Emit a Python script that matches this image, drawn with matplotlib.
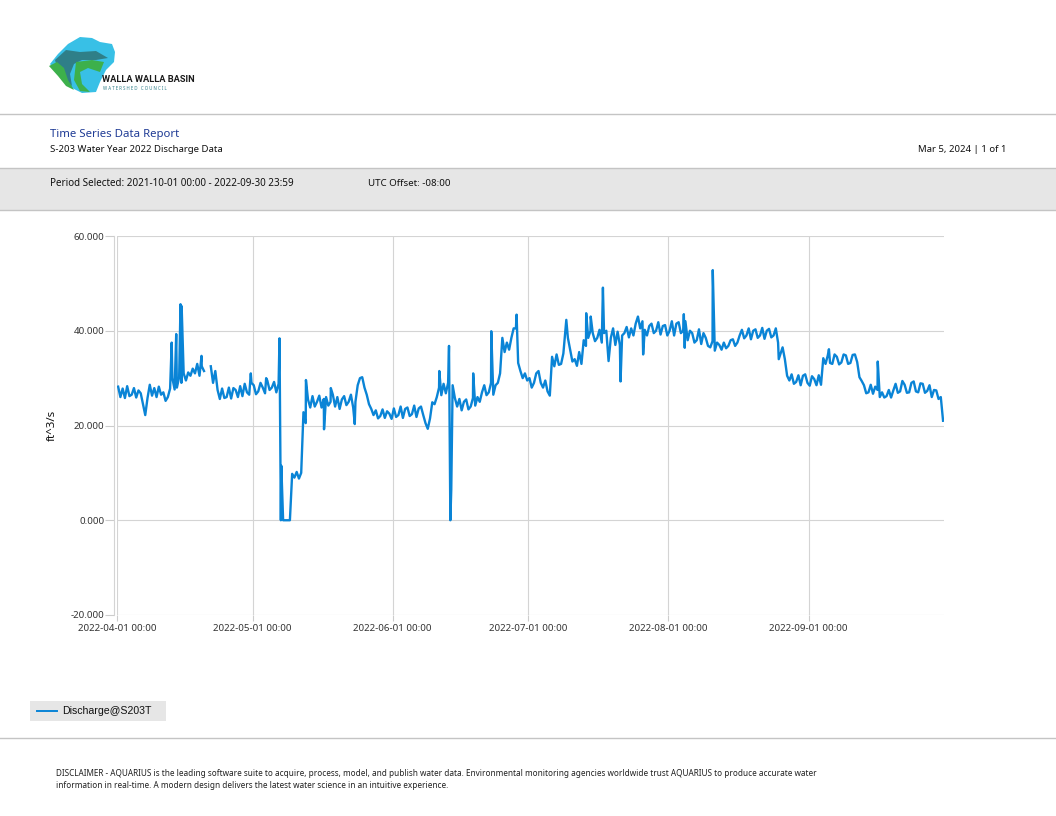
import matplotlib
matplotlib.use('Agg')
import matplotlib.pyplot as plt
import matplotlib.dates as mdates
from matplotlib.patches import Polygon, Rectangle
import numpy as np
import pandas as pd

plt.rcParams['font.family'] = ['Noto Sans', 'DejaVu Sans']

# discharge, two readings per day (06:00 and 18:00) from 2022-04-01
flow = [
    28.2, 26.0, 27.8, 25.8, 28.3, 26.2, 26.5, 27.9, 25.9, 27.4,
    26.8, 24.5, 22.2, 25.8, 28.6, 26.3, 27.9, 26.0, 28.2, 26.5,
    27.0, 25.2, 26.0, 27.8, 30.0, 27.6, 28.0, 30.2, 29.0, 31.0,
    29.5, 31.2, 30.5, 32.0, 31.0, 33.0, 30.5, 32.5, 31.5, np.nan,
    np.nan, 32.5, 29.0, 31.5, 27.5, 25.6, 27.8, 25.8, 26.0, 28.0,
    25.7, 27.9, 27.5, 26.0, 28.3, 26.2, 28.8, 27.0, 26.5, 29.0,
    28.5, 26.6, 27.2, 29.0, 28.0, 26.8, 29.5, 27.5, 28.0, 29.2,
    27.0, 28.8, 0.0, 0.0, 0.0, 0.0, 0.0, 9.8, 9.0, 10.2,
    8.8, 10.0, 22.8, 20.5, 25.5, 23.8, 26.2, 24.0, 25.0, 26.3,
    23.8, 25.6, 26.0, 24.2, 25.0, 26.5, 24.0, 26.0, 23.5, 25.5,
    26.2, 24.3, 25.0, 26.5, 23.8, 25.0, 28.5, 30.0, 30.2, 28.0,
    26.5, 24.5, 23.5, 22.2, 23.2, 21.5, 22.0, 23.4, 21.6, 23.0,
    22.5, 21.4, 23.6, 21.8, 22.2, 24.0, 21.6, 23.5, 23.8, 22.0,
    22.4, 24.2, 21.8, 23.6, 24.0, 22.2, 20.5, 19.3, 21.5, 24.9,
    24.5, 26.0, 28.0, 26.4, 28.8, 26.8, 29.0, 0.0, 28.5, 25.8,
    24.0, 25.6, 23.2, 25.0, 25.5, 23.4, 24.0, 25.8, 24.2, 26.0,
    25.0, 27.0, 28.5, 26.4, 27.0, 29.0, 26.5, 28.5, 29.0, 31.0,
    38.5, 35.5, 37.5, 36.0, 38.5, 40.5, 40.5, 33.2, 31.5, 30.0,
    31.0, 29.5, 30.0, 28.0, 29.0, 31.0, 31.5, 29.0, 28.0, 29.5,
    27.2, 26.3, 34.5, 32.5, 35.0, 32.8, 33.0, 35.2, 40.5, 38.5,
    36.0, 33.5, 34.0, 32.6, 35.5, 33.0, 38.0, 36.8, 38.5, 40.0,
    39.5, 37.8, 38.5, 40.2, 37.5, 39.5, 40.0, 33.6, 38.5, 40.5,
    37.0, 39.8, 37.0, 39.0, 39.5, 40.8, 38.6, 40.5, 39.0, 41.5,
    43.0, 40.5, 42.0, 40.2, 39.0, 41.0, 41.5, 39.5, 40.0, 41.8,
    39.2, 41.0, 41.2, 39.0, 40.0, 42.0, 39.0, 41.5, 41.8, 39.5,
    40.0, 42.0, 38.0, 40.0, 39.5, 37.5, 38.0, 40.3, 37.2, 39.5,
    38.5, 36.8, 36.5, 37.8, 35.8, 37.5, 37.0, 36.0, 37.5, 36.3,
    36.8, 38.0, 38.2, 36.8, 37.5, 39.0, 40.2, 38.4, 39.0, 40.5,
    38.2, 40.0, 40.3, 38.5, 39.0, 40.6, 38.3, 40.0, 40.4, 38.6,
    39.0, 40.5, 37.5, 35.0, 36.5, 34.0, 30.5, 29.5, 30.8, 28.8,
    29.2, 30.6, 28.5, 30.5, 30.8, 29.0, 28.4, 30.4, 29.8, 28.5,
    30.6, 28.6, 34.2, 33.0, 34.8, 33.2, 33.0, 35.0, 34.5, 32.9,
    33.3, 35.0, 34.8, 33.0, 33.2, 34.9, 35.0, 33.4, 30.2, 29.4,
    28.5, 26.8, 27.0, 28.6, 26.7, 28.2, 27.5, 26.0, 27.0, 25.9,
    26.2, 27.5, 25.9, 27.4, 28.8, 26.9, 27.2, 29.4, 28.6, 26.9,
    27.0, 29.0, 29.3, 27.2, 27.0, 28.9, 28.8, 26.9, 27.3, 28.5,
    26.0, 27.5, 27.4, 25.6, 26.0, 21.0,
]

# short spikes and dips between the regular readings (days after 2022-04-01)
spike_day = [12.1, 13.1, 14.05, 14.3, 18.7, 29.6, 33.0, 35.95, 36.35, 41.8,
             45.8, 47.3, 52.6, 71.3, 73.45, 73.95, 78.8, 82.8, 88.4, 99.4,
             103.8, 104.8, 107.5, 111.4, 116.4, 125.4, 125.6, 131.8, 146.4,
             157.5, 168.3]
spike_flow = [37.5, 39.3, 45.6, 45.2, 34.7, 31.0, 30.0, 38.4, 11.5, 29.6,
              19.2, 27.9, 20.3, 31.5, 36.8, 6.5, 31.0, 39.9, 43.4, 42.3,
              43.7, 43.0, 49.1, 29.3, 35.0, 43.5, 36.4, 52.8, 34.0,
              36.1, 33.5]

y_ticks = [-20, 0, 20, 40, 60]
series_name = 'Discharge@S203T'

start = pd.Timestamp('2022-04-01')
base = pd.Series(flow, index=pd.date_range(start + pd.Timedelta(hours=6),
                                           periods=len(flow), freq='12h'))
extra = pd.Series(spike_flow, index=start + pd.to_timedelta(spike_day, unit='D'))
data = pd.concat([base, extra]).sort_index()

W, H = 1056, 816
fig = plt.figure(figsize=(W / 100, H / 100), dpi=100)

# page layer in pixel coordinates
page = fig.add_axes([0, 0, 1, 1])
page.set_xlim(0, W)
page.set_ylim(H, 0)
page.axis('off')

# logo (rough shapes)
page.add_patch(Polygon([(68, 44), (80, 37), (92, 38), (100, 42), (112, 44), (115, 52),
                        (114, 62), (106, 70), (100, 82), (96, 92), (82, 93), (72, 88),
                        (62, 78), (55, 70), (50, 64), (58, 54)],
                       closed=True, color='#38c0e6', lw=0))
page.add_patch(Polygon([(55, 60), (66, 50), (80, 52), (96, 51), (108, 58), (96, 60),
                        (82, 60), (74, 64), (70, 74), (72, 86), (64, 80), (58, 70)],
                       closed=True, color='#2f7f88', lw=0))
page.add_patch(Polygon([(49, 66), (57, 62), (64, 68), (68, 80), (74, 90), (66, 86),
                        (58, 76)], closed=True, color='#3db04b', lw=0))
page.add_patch(Polygon([(76, 62), (92, 60), (104, 62), (100, 72), (88, 68), (80, 72),
                        (82, 84), (90, 92), (80, 91), (74, 80)],
                       closed=True, color='#3db04b', lw=0))
page.text(102, 80, 'WALLA WALLA BASIN', fontsize=6.7, fontweight='bold',
          family=['Roboto', 'DejaVu Sans'], color='#1a1a1a', va='center')
page.text(103, 89, 'W A T E R S H E D   C O U N C I L', fontsize=3.2,
          color='#2f7f88', va='center')

grey_line = '#c4c4c4'
page.plot([0, W], [114, 114], color=grey_line, lw=1)
page.text(50, 135, 'Time Series Data Report', fontsize=8.2, color='#1f3b95',
          va='center')
page.text(50, 150, 'S-203 Water Year 2022 Discharge Data', fontsize=6.9,
          color='#111111', va='center')
page.text(1006, 150, 'Mar 5, 2024 | 1 of 1', fontsize=6.9, color='#111111',
          va='center', ha='right')

page.add_patch(Rectangle((0, 168), W, 42, color='#e6e6e6', lw=0))
page.plot([0, W], [168, 168], color=grey_line, lw=1)
page.plot([0, W], [210, 210], color=grey_line, lw=1)
page.text(50, 183, 'Period Selected: 2021-10-01 00:00 - 2022-09-30 23:59',
          fontsize=7.1, color='#111111', va='center')
page.text(368, 183, 'UTC Offset: -08:00', fontsize=7.0, color='#111111',
          va='center')

# legend box
line_blue = '#0a84d6'
page.add_patch(Rectangle((30, 701), 136, 20, color='#e6e6e6', lw=0))
page.plot([37, 57], [711, 711], color=line_blue, lw=1.4)
page.text(62, 711, series_name, fontsize=7.6, family=['Liberation Sans'],
          color='#111111', va='center')

page.plot([0, W], [738, 738], color=grey_line, lw=1)
page.text(56, 774, 'DISCLAIMER - AQUARIUS is the leading software suite to acquire, '
          'process, model, and publish water data. Environmental monitoring agencies '
          'worldwide trust AQUARIUS to produce accurate water',
          fontsize=5.9, color='#222222', va='center')
page.text(56, 786, 'information in real-time. A modern design delivers the latest '
          'water science in an intuitive experience.',
          fontsize=5.9, color='#222222', va='center')

# chart
ax = fig.add_axes([117 / W, 1 - 615 / H, (944 - 117) / W, (615 - 236) / H])
ax.set_facecolor('none')
ax.plot(data.index, data.values, color=line_blue, lw=1.7)

ax.set_ylim(-20, 60)
ax.set_yticks(y_ticks)
ax.yaxis.set_major_formatter(plt.FuncFormatter(lambda v, p: '%.3f' % v))
ax.set_xlim(start, pd.Timestamp('2022-09-30 23:00'))
ax.xaxis.set_major_locator(mdates.MonthLocator())
ax.xaxis.set_major_formatter(mdates.DateFormatter('%Y-%m-%d %H:%M'))

ax.grid(True, color='#d4d4d4', lw=0.8)
ax.set_axisbelow(True)
for side in ['top', 'right', 'bottom']:
    ax.spines[side].set_visible(False)
ax.spines['left'].set_color('#d4d4d4')
ax.spines['left'].set_position(('outward', 2))
ax.tick_params(axis='y', length=6.5, width=0.8, color='#cccccc', pad=0.5,
               labelsize=7, labelcolor='#333333')
ax.tick_params(axis='x', length=4.5, width=0.8, color='#cccccc', pad=2,
               labelsize=7, labelcolor='#333333')
ax.set_ylabel('ft^3/s', fontsize=8.3, color='#111111', labelpad=9)

fig.savefig('out.png', dpi=100)
